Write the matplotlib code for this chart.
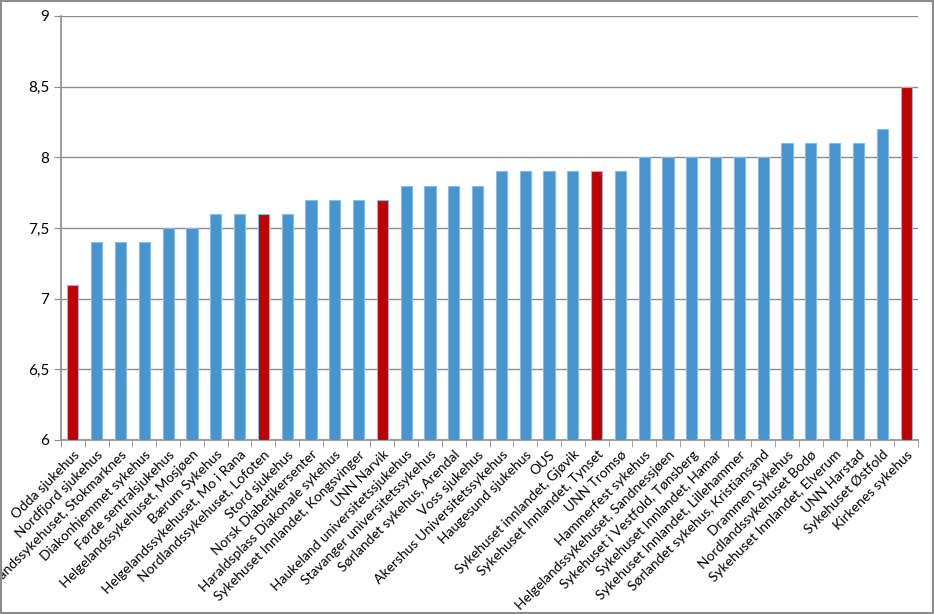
import matplotlib
matplotlib.use("Agg")
import matplotlib.pyplot as plt
import numpy as np

plt.rcParams['font.family'] = ['Lato', 'DejaVu Sans']

hospitals = [
    'Odda sjukehus', 'Nordfjord sjukehus', 'Nordlandssykehuset, Stokmarknes',
    'Diakonhjemmet sykehus', 'Førde sentralsjukehus', 'Helgelandssykehuset, Mosjøen',
    'Bærum Sykehus', 'Helgelandssykehuset, Mo i Rana', 'Nordlandssykehuset, Lofoten',
    'Stord sjukehus', 'Norsk Diabetikersenter', 'Haraldsplass Diakonale sykehus',
    'Sykehuset Innlandet, Kongsvinger', 'UNN Narvik', 'Haukeland universitetssjukehus',
    'Stavanger universitetssykehus', 'Sørlandet sykehus, Arendal', 'Voss sjukehus',
    'Akershus Universitetssykehus', 'Haugesund sjukehus', 'OUS',
    'Sykehuset innlandet, Gjøvik', 'Sykehuset Innlandet, Tynset', 'UNN Tromsø',
    'Hammerfest sykehus', 'Helgelandssykehuset, Sandnessjøen',
    'Sykehuset i Vestfold, Tønsberg', 'Sykehuset Innlandet, Hamar',
    'Sykehuset Innlandet, Lillehammer', 'Sørlandet sykehus, Kristiansand',
    'Drammen Sykehus', 'Nordlandssykehuset Bodø', 'Sykehuset Innlandet, Elverum',
    'UNN Harstad', 'Sykehuset Østfold', 'Kirkenes sykehus',
]
scores = [7.1, 7.4, 7.4, 7.4, 7.5, 7.5, 7.6, 7.6, 7.6, 7.6, 7.7, 7.7, 7.7, 7.7,
          7.8, 7.8, 7.8, 7.8, 7.9, 7.9, 7.9, 7.9, 7.9, 7.9, 8.0, 8.0, 8.0, 8.0,
          8.0, 8.0, 8.1, 8.1, 8.1, 8.1, 8.2, 8.5]
highlighted = ['Odda sjukehus', 'Nordlandssykehuset, Lofoten', 'UNN Narvik',
               'Sykehuset Innlandet, Tynset', 'Kirkenes sykehus']

blue = '#4694D0'
red = '#C00000'
colors = [red if h in highlighted else blue for h in hospitals]

fig = plt.figure(figsize=(9.34, 6.14), dpi=100)
ax = fig.add_axes([0.0653, 0.2834, 0.9176, 0.6906])

x = np.arange(len(hospitals))
ax.bar(x, [s - 6 for s in scores], bottom=6, width=0.47, color=colors,
       edgecolor='#8DB8E0', linewidth=0.8, zorder=3)

ax.set_ylim(6, 9)
ax.set_xlim(-0.5, len(hospitals) - 0.5)
ax.set_yticks([6, 6.5, 7, 7.5, 8, 8.5, 9])
ax.set_yticklabels(['6', '6,5', '7', '7,5', '8', '8,5', '9'], fontsize=11)
ax.yaxis.grid(True, color='#8C8C8C', linewidth=1)
ax.set_axisbelow(True)

ax.set_xticks(x)
ax.set_xticklabels(hospitals, rotation=45, ha='right', rotation_mode='anchor',
                   fontsize=10)
ax.tick_params(axis='x', length=0, pad=6)
ax.set_xticks(np.arange(-0.5, len(hospitals)), minor=True)
ax.tick_params(axis='x', which='minor', length=5, color='#8C8C8C')
ax.tick_params(axis='y', length=5, color='#8C8C8C')

for side in ['top', 'right']:
    ax.spines[side].set_visible(False)
ax.spines['left'].set_color('#8C8C8C')
ax.spines['bottom'].set_color('#8C8C8C')
ax.spines['left'].set_linewidth(1.2)
ax.spines['bottom'].set_linewidth(1.2)

fig.patches.append(plt.Rectangle((0.001, 0.001), 0.998, 0.998, transform=fig.transFigure,
                                 fill=False, edgecolor='#8C8C8C', linewidth=1.5))

fig.savefig('out.png', dpi=100)
